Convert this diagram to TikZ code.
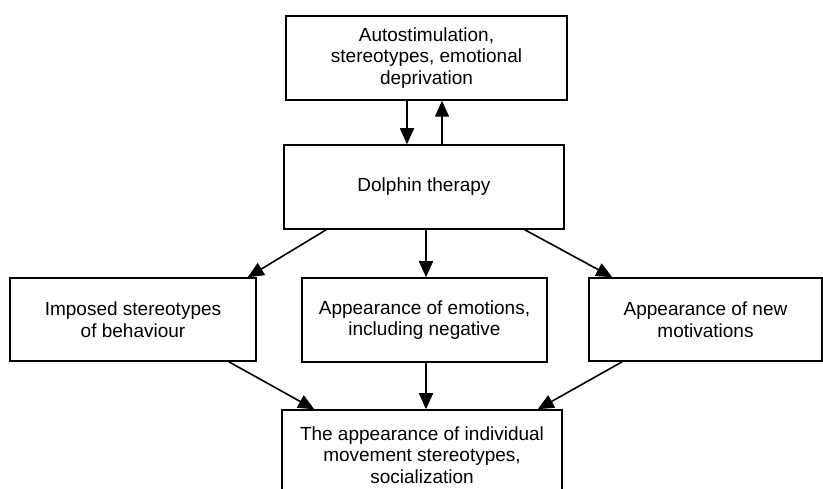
\documentclass[tikz,border=0pt]{standalone}
\usepackage{fontspec}
\setmainfont{Liberation Sans}
\usetikzlibrary{arrows.meta}
\begin{document}
\begin{tikzpicture}[x=1pt,y=-1pt,
  box/.style={draw, line width=1.5pt, align=center, inner sep=0pt,
    font=\fontsize{19}{21.7}\selectfont},
  conn/.style={line width=1.6pt, -{Triangle[length=16pt,width=14pt]}}]
\useasboundingbox (0,0) rectangle (823,489);
\clip (0,0) rectangle (823,489);
\node[box, minimum width=281pt, minimum height=84pt] (top) at (426.5,58)
  {Autostimulation,\\stereotypes, emotional\\deprivation};
\node[box, minimum width=280pt, minimum height=84pt] (dolphin) at (424,187)
  {Dolphin therapy};
\node[box, minimum width=246pt, minimum height=83pt] (left) at (133,319.5)
  {Imposed stereotypes\\of behaviour};
\node[box, minimum width=245pt, minimum height=84pt] (middle) at (424.5,320)
  {Appearance of emotions,\\including negative};
\node[box, minimum width=233pt, minimum height=83pt] (right) at (705.5,319.5)
  {Appearance of new\\motivations};
\node[box, minimum width=280pt, minimum height=90pt] (bottom) at (422,455)
  {The appearance of individual\\movement stereotypes,\\socialization};
% top <-> dolphin
\draw[conn] ([xshift=-19.5pt]top.south) -- ([xshift=-17pt]dolphin.north);
\draw[conn] ([xshift=18pt]dolphin.north) -- ([xshift=15.5pt]top.south);
% dolphin -> row
\draw[conn] ([xshift=43pt]dolphin.south west) -- ([xshift=-9pt]left.north east);
\draw[conn] ([xshift=2pt]dolphin.south) -- ([xshift=1.5pt]middle.north);
\draw[conn] ([xshift=-40pt]dolphin.south east) -- ([xshift=24pt]right.north west);
% row -> bottom
\draw[conn] ([xshift=-28pt]left.south east) -- ([xshift=33pt]bottom.north west);
\draw[conn] ([xshift=1.5pt]middle.south) -- ([xshift=4pt]bottom.north);
\draw[conn] ([xshift=34pt]right.south west) -- ([xshift=-25pt]bottom.north east);
\end{tikzpicture}
\end{document}
